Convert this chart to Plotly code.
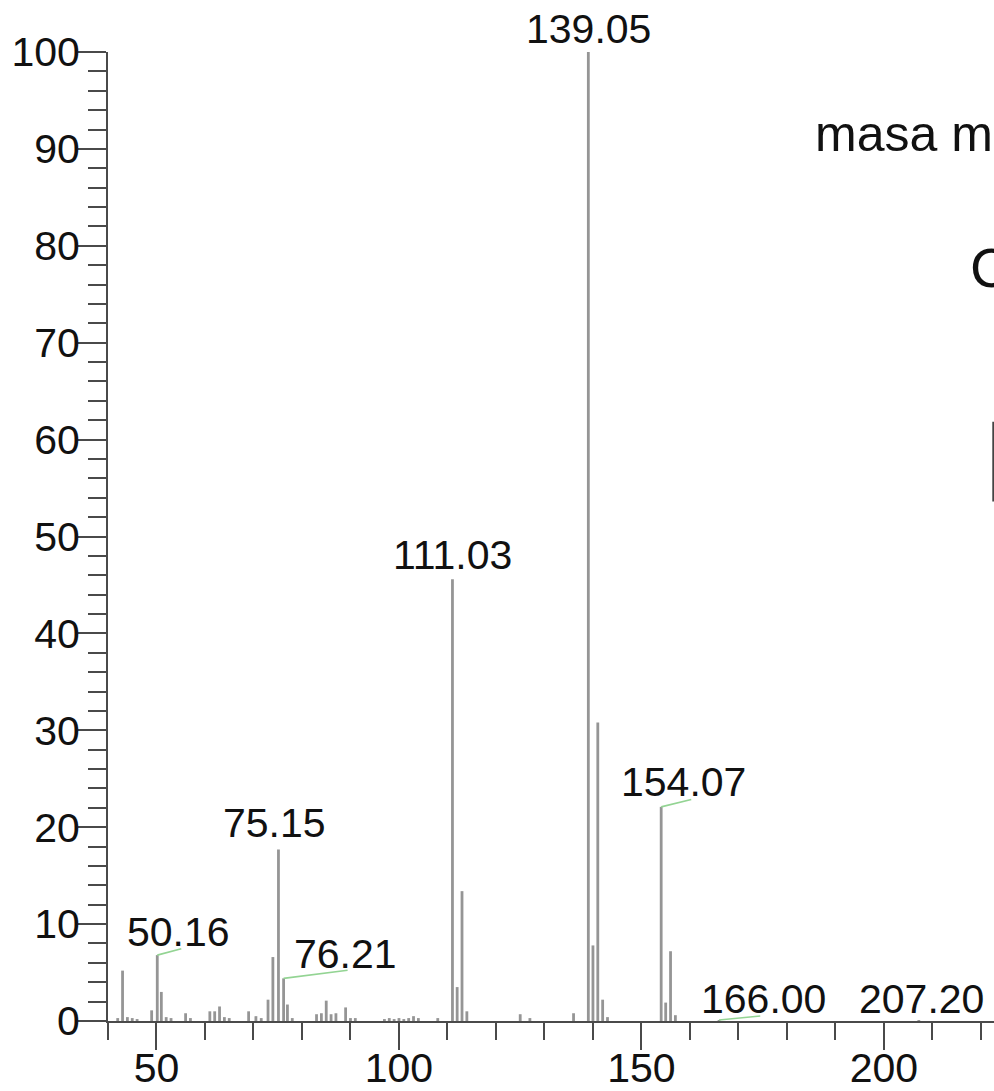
import plotly.graph_objects as go

# Mass spectrum: m/z and relative intensity (%) of every stick
mz = [42, 43, 44, 45, 46, 49, 50.16, 51, 52, 53, 56, 57, 61, 62, 63, 64, 65,
      69, 70.5, 71.6, 73, 74, 75.15, 76.21, 77, 78, 83, 84, 85, 86, 87, 89, 90, 91,
      97, 98, 99, 100, 101, 102, 103, 104, 108,
      111.03, 112, 113, 114, 125, 127, 136,
      139.05, 140, 141, 142, 143, 154.07, 155, 156, 157, 166.00, 207.20]
intensity = [0.3, 5.2, 0.4, 0.3, 0.2, 1.1, 6.8, 3.0, 0.4, 0.3, 0.8, 0.3, 1.0, 1.0, 1.5, 0.4, 0.3,
             1.0, 0.5, 0.3, 2.2, 6.6, 17.7, 4.4, 1.7, 0.3, 0.7, 0.8, 2.1, 0.7, 0.8, 1.4, 0.3, 0.3,
             0.2, 0.3, 0.2, 0.3, 0.2, 0.3, 0.5, 0.3, 0.3,
             45.6, 3.5, 13.4, 1.0, 0.7, 0.3, 0.8,
             100.0, 7.8, 30.8, 2.2, 0.4, 22.1, 1.9, 7.2, 0.6, 0.1, 0.1]

# Labelled peaks
label_mz = [50.16, 75.15, 76.21, 111.03, 139.05, 154.07, 166.00, 207.20]
label_text = ["50.16", "75.15", "76.21", "111.03", "139.05", "154.07", "166.00", "207.20"]

# Label placement relative to the peak top, in pixels
label_xshift = [21, -4, 62, 0, 0, 22, 44, 3]
label_yshift = [23, 26.5, 24.5, 24, 23.5, 24.5, 21, 21]
# Leader line ends relative to the peak top (m/z, %); None = no leader
leader_dx = [4.95, None, 13.2, None, None, 6.2, 8.5, None]
leader_dy = [0.65, None, 0.83, None, None, 0.75, 0.41, None]

FONT = "Liberation Sans, Arial, Helvetica, sans-serif"
AXIS_COLOR = "#4a4a4a"
STICK_COLOR = "#959595"
LEADER_COLOR = "#93d493"
TEXT_COLOR = "#111111"
FS = 41

xs, ys = [], []
for m, v in zip(mz, intensity):
    xs += [m, m, None]
    ys += [0, v, None]

fig = go.Figure()
fig.add_trace(go.Scatter(x=xs, y=ys, mode="lines",
                         line=dict(color=STICK_COLOR, width=2.8),
                         hoverinfo="skip", showlegend=False, cliponaxis=False))

peak_height = dict(zip(mz, intensity))
annotations = []
shapes = []
for m, txt, xsh, ysh, lx, ly in zip(label_mz, label_text, label_xshift, label_yshift,
                                      leader_dx, leader_dy):
    top = peak_height[m]
    annotations.append(dict(x=m, y=top, xref="x", yref="y", text=txt,
                            xshift=xsh, yshift=ysh,
                            showarrow=False, xanchor="center", yanchor="middle",
                            font=dict(family=FONT, size=FS, color=TEXT_COLOR)))
    if lx is not None:
        shapes.append(dict(type="line", xref="x", yref="y", x0=m, y0=top,
                           x1=m + lx, y1=top + ly,
                           line=dict(color=LEADER_COLOR, width=1.6)))

# Text partly outside the right edge of the figure
annotations.append(dict(x=0.796, y=0.9155, xref="paper", yref="paper", text="masa m",
                        showarrow=False, xanchor="left", yanchor="middle",
                        font=dict(family=FONT, size=50, color=TEXT_COLOR)))
annotations.append(dict(x=0.971, y=0.7778, xref="paper", yref="paper", text="C",
                        showarrow=False, xanchor="left", yanchor="middle",
                        font=dict(family=FONT, size=56, color=TEXT_COLOR)))
shapes.append(dict(type="line", xref="paper", yref="paper", x0=0.9992, x1=0.9992,
                   y0=0.536, y1=0.6185, line=dict(color="#444444", width=2)))

fig.update_layout(
    width=994, height=1091,
    margin=dict(l=108, r=0, t=52, b=70, autoexpand=False),
    paper_bgcolor="white", plot_bgcolor="white",
    font=dict(family=FONT, size=FS, color=TEXT_COLOR),
    annotations=annotations, shapes=shapes,
    showlegend=False,
)

fig.update_xaxes(
    range=[40, 222.7], showgrid=False, zeroline=False, automargin=False,
    showline=True, linecolor=AXIS_COLOR, linewidth=2,
    tick0=0, dtick=50, ticks="outside", ticklen=27, tickwidth=2, tickcolor=AXIS_COLOR,
    tickfont=dict(family=FONT, size=FS, color=TEXT_COLOR), ticklabelstandoff=-17,
    minor=dict(dtick=10, tick0=0, ticks="outside", ticklen=17, tickwidth=2, tickcolor=AXIS_COLOR),
)
fig.update_yaxes(
    range=[0, 100], showgrid=False, zeroline=False, automargin=False,
    showline=True, linecolor=AXIS_COLOR, linewidth=2,
    tick0=0, dtick=10, ticks="outside", ticklen=28, tickwidth=2, tickcolor=AXIS_COLOR,
    tickfont=dict(family=FONT, size=FS, color=TEXT_COLOR), ticklabelstandoff=-10,
    minor=dict(dtick=2, tick0=0, ticks="outside", ticklen=18, tickwidth=2, tickcolor=AXIS_COLOR),
)

fig.write_html("out.html")
